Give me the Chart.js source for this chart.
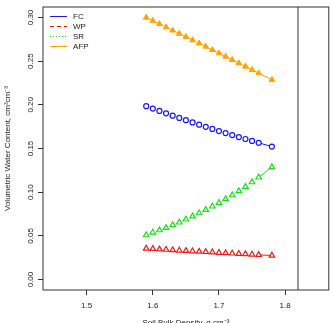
<html>
<head>
    <script src="https://cdn.jsdelivr.net/npm/chart.js@4.4.0/dist/chart.umd.min.js"></script>
    <style>
        body { margin: 0; background: #fff; }
        #wrap { width: 334px; height: 323px; }
    </style>
</head>
<body>
<div id="wrap"><canvas id="myChart" width="334" height="323"></canvas></div>

<script>
    // soil bulk density (g cm-3) and water contents
    const density = [1.59, 1.60, 1.61, 1.62, 1.63, 1.64, 1.65, 1.66, 1.67, 1.68,
                     1.69, 1.70, 1.71, 1.72, 1.73, 1.74, 1.75, 1.76, 1.78];
    const fc  = [0.1985, 0.1957, 0.1930, 0.1903, 0.1876, 0.1850, 0.1824, 0.1798, 0.1773, 0.1748,
                 0.1724, 0.1700, 0.1677, 0.1654, 0.1631, 0.1609, 0.1587, 0.1565, 0.1522];
    const wp  = [0.0355, 0.0351, 0.0346, 0.0342, 0.0337, 0.0333, 0.0329, 0.0324, 0.0320, 0.0316,
                 0.0312, 0.0307, 0.0303, 0.0299, 0.0295, 0.0291, 0.0287, 0.0283, 0.0275];
    const sr  = [0.0508, 0.0539, 0.0565, 0.0592, 0.0623, 0.0654, 0.0688, 0.0723, 0.0760, 0.0798,
                 0.0837, 0.0878, 0.0921, 0.0966, 0.1012, 0.1061, 0.1115, 0.1169, 0.1288];
    const afp = [0.3000, 0.2963, 0.2926, 0.2889, 0.2852, 0.2815, 0.2778, 0.2741, 0.2704, 0.2667,
                 0.2629, 0.2591, 0.2553, 0.2515, 0.2477, 0.2439, 0.2401, 0.2363, 0.2287];

    const xTicks = [1.5, 1.6, 1.7, 1.8];
    const yTicks = [0.00, 0.05, 0.10, 0.15, 0.20, 0.25, 0.30];
    const refLineX = 1.82;

    const axisColor = '#333';
    const font = "'Liberation Sans', Arial, sans-serif";

    function pts(ys) {
        return density.map((d, i) => ({ x: d, y: ys[i] }));
    }

    // like R type="b": line only visible where the points leave a gap
    function gapColor(col) {
        return ctx => (ctx.p1.parsed.x - ctx.p0.parsed.x > 0.015 ? col : 'rgba(0,0,0,0)');
    }

    const boxPlugin = {
        id: 'boxPlugin',
        afterDraw(chart) {
            const ctx = chart.ctx;
            const a = chart.chartArea;
            const xs = chart.scales.x;
            const ys = chart.scales.y;
            ctx.save();
            ctx.strokeStyle = axisColor;
            ctx.lineWidth = 1;
            ctx.strokeRect(a.left, a.top, a.right - a.left, a.bottom - a.top);
            const rx = Math.round(xs.getPixelForValue(refLineX));
            ctx.beginPath();
            ctx.moveTo(rx, a.top);
            ctx.lineTo(rx, a.bottom);
            ctx.stroke();

            // rotated y tick labels
            ctx.fillStyle = '#222';
            ctx.font = '8px ' + font;
            ctx.textAlign = 'center';
            ctx.textBaseline = 'middle';
            yTicks.forEach(v => {
                const py = ys.getPixelForValue(v);
                ctx.save();
                ctx.translate(30.5, py);
                ctx.rotate(-Math.PI / 2);
                ctx.fillText(v.toFixed(2), 0, 0);
                ctx.restore();
            });

            // legend
            chart.data.datasets.forEach((ds, i) => {
                const ly = 16.5 + i * 10;
                ctx.strokeStyle = ds.borderColor;
                ctx.setLineDash(ds.borderDash || []);
                ctx.beginPath();
                ctx.moveTo(50, ly);
                ctx.lineTo(67, ly);
                ctx.stroke();
                ctx.setLineDash([]);
                ctx.fillStyle = '#222';
                ctx.textAlign = 'left';
                ctx.fillText(ds.label, 73, ly);
            });
            ctx.restore();
        }
    };

    const ctx = document.getElementById('myChart').getContext('2d');
    const myChart = new Chart(ctx, {
        type: 'line',
        data: {
            datasets: [{
                label: 'FC',
                data: pts(fc),
                borderColor: '#1a1aee',
                backgroundColor: '#fff',
                borderWidth: 1,
                pointStyle: 'circle',
                pointRadius: 2.5,
                pointBorderWidth: 1.2,
                segment: { borderColor: gapColor('#1a1aee') }
            }, {
                label: 'WP',
                data: pts(wp),
                borderColor: '#ee1a1a',
                backgroundColor: '#fff',
                borderWidth: 1,
                borderDash: [4, 3],
                pointStyle: 'triangle',
                pointRadius: 3.2,
                pointBorderWidth: 1.2,
                segment: { borderColor: gapColor('#ee1a1a'), borderDash: () => [] }
            }, {
                label: 'SR',
                data: pts(sr),
                borderColor: '#1add1a',
                backgroundColor: '#fff',
                borderWidth: 1,
                borderDash: [1, 2],
                pointStyle: 'triangle',
                pointRadius: 3.2,
                pointBorderWidth: 1.2,
                segment: { borderColor: gapColor('#1add1a'), borderDash: () => [] }
            }, {
                label: 'AFP',
                data: pts(afp),
                borderColor: '#ffa500',
                backgroundColor: '#ffa500',
                borderWidth: 1,
                pointStyle: 'triangle',
                pointRadius: 3.3,
                pointBorderWidth: 1
            }]
        },
        options: {
            responsive: false,
            animation: false,
            layout: { padding: { left: 0, right: 4, top: 7, bottom: 0 } },
            plugins: {
                legend: { display: false },
                tooltip: { enabled: false }
            },
            scales: {
                x: {
                    type: 'linear',
                    min: 1.434,
                    max: 1.866,
                    afterBuildTicks: s => { s.ticks = xTicks.map(v => ({ value: v })); },
                    afterFit: s => { s.height = 33; },
                    border: { display: false },
                    grid: { drawOnChartArea: false, drawTicks: true, tickLength: 5, color: axisColor },
                    ticks: {
                        padding: 6,
                        color: '#222',
                        font: { family: font, size: 8 },
                        maxRotation: 0,
                        callback: v => v.toFixed(1)
                    },
                    title: {
                        display: true,
                        text: 'Soil Bulk Density, g cm⁻³',
                        color: '#222',
                        font: { family: font, size: 8 },
                        padding: { top: 0, bottom: -5 }
                    }
                },
                y: {
                    type: 'linear',
                    min: -0.012,
                    max: 0.312,
                    afterBuildTicks: s => { s.ticks = yTicks.map(v => ({ value: v })); },
                    afterFit: s => { s.width = 43; },
                    border: { display: false },
                    grid: { drawOnChartArea: false, drawTicks: true, tickLength: 5, color: axisColor },
                    ticks: { display: false },
                    title: {
                        display: true,
                        text: 'Volumetric Water Content, cm³cm⁻³',
                        color: '#222',
                        font: { family: font, size: 8 },
                        padding: { top: 3, bottom: 0 }
                    }
                }
            }
        },
        plugins: [boxPlugin]
    });
</script>
</body>
</html>
